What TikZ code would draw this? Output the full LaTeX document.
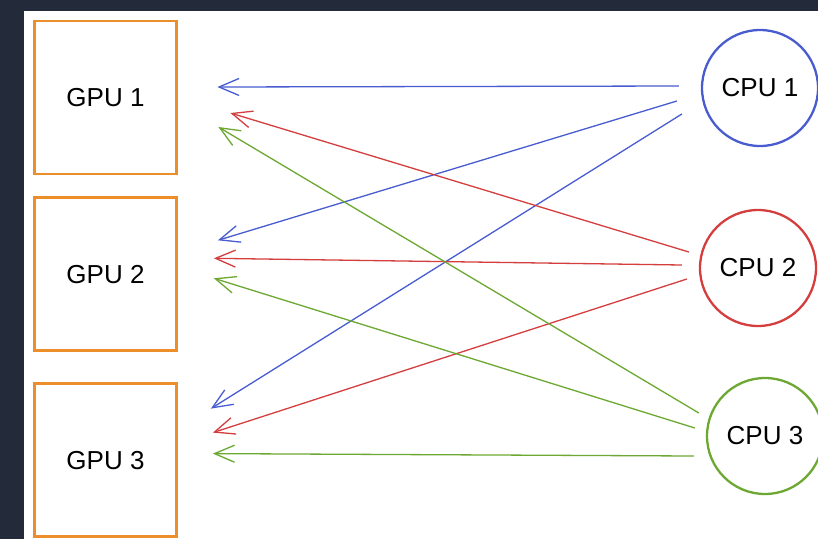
\documentclass[tikz,border=0pt]{standalone}
\usepackage{fontspec}
\setmainfont{Liberation Sans}
\usetikzlibrary{arrows.meta,positioning}
\definecolor{bgdark}{RGB}{35,43,59}
\definecolor{gpuorange}{RGB}{236,143,43}
\definecolor{cpublue}{RGB}{72,92,208}
\definecolor{cpured}{RGB}{212,62,62}
\definecolor{cpugreen}{RGB}{108,168,50}

\begin{document}
\begin{tikzpicture}[
  x=1pt, y=-1pt,
  gpu/.style={draw=gpuorange, line width=2.8pt, minimum width=142pt,
              minimum height=153pt, inner sep=0pt, font=\fontsize{26}{30}\selectfont},
  cpu/.style={circle, line width=2.3pt, minimum size=116pt, inner sep=0pt,
              font=\fontsize{26}{30}\selectfont},
  link/.style={-{Straight Barb[length=20pt,width=17pt]}, line width=1.3pt}
]
\useasboundingbox (0,0) rectangle (818,539);
\fill[bgdark] (0,0) rectangle (818,539);
\fill[white] (24,11) rectangle (818,539);
\node[gpu] (gpu1) at (105.5,97.5) {GPU 1};
\node[gpu, below=21pt of gpu1] (gpu2) {GPU 2};
\node[gpu, below=30pt of gpu2] (gpu3) {GPU 3};
\node[cpu, draw=cpublue] (cpu1) at (760,88) {CPU 1};
\node[cpu, draw=cpured] (cpu2) at (758,268) {CPU 2};
\node[cpu, draw=cpugreen] (cpu3) at (765,436) {CPU 3};
\coordinate (c1-g1) at ([shift={(-22,-2)}]cpu1.west);
\coordinate (c1-g2) at ([shift={(-24,13)}]cpu1.west);
\coordinate (c1-g3) at ([shift={(-19,26)}]cpu1.west);
\coordinate (c2-g1) at ([shift={(-10,-16)}]cpu2.west);
\coordinate (c2-g2) at ([shift={(-17,-3)}]cpu2.west);
\coordinate (c2-g3) at ([shift={(-12,11)}]cpu2.west);
\coordinate (c3-g1) at ([shift={(-7,-23)}]cpu3.west);
\coordinate (c3-g2) at ([shift={(-11,-8)}]cpu3.west);
\coordinate (c3-g3) at ([shift={(-12,20)}]cpu3.west);
\coordinate (g1-c1) at ([shift={(39.5,-10.5)}]gpu1.east);
\coordinate (g1-c2) at ([shift={(52.5,15.5)}]gpu1.east);
\coordinate (g1-c3) at ([shift={(40.5,29.5)}]gpu1.east);
\coordinate (g2-c1) at ([shift={(40,-34)}]gpu2.east);
\coordinate (g2-c2) at ([shift={(36,-16)}]gpu2.east);
\coordinate (g2-c3) at ([shift={(36,4)}]gpu2.east);
\coordinate (g3-c1) at ([shift={(33,-51.5)}]gpu3.east);
\coordinate (g3-c2) at ([shift={(35,-27.5)}]gpu3.east);
\coordinate (g3-c3) at ([shift={(35,-6.5)}]gpu3.east);
\draw[link, cpublue] (c1-g1) -- (g1-c1);
\draw[link, cpublue] (c1-g2) -- (g2-c1);
\draw[link, cpublue] (c1-g3) -- (g3-c1);
\draw[link, cpured] (c2-g1) -- (g1-c2);
\draw[link, cpured] (c2-g2) -- (g2-c2);
\draw[link, cpured] (c2-g3) -- (g3-c2);
\draw[link, cpugreen] (c3-g1) -- (g1-c3);
\draw[link, cpugreen] (c3-g2) -- (g2-c3);
\draw[link, cpugreen] (c3-g3) -- (g3-c3);
\end{tikzpicture}
\end{document}
